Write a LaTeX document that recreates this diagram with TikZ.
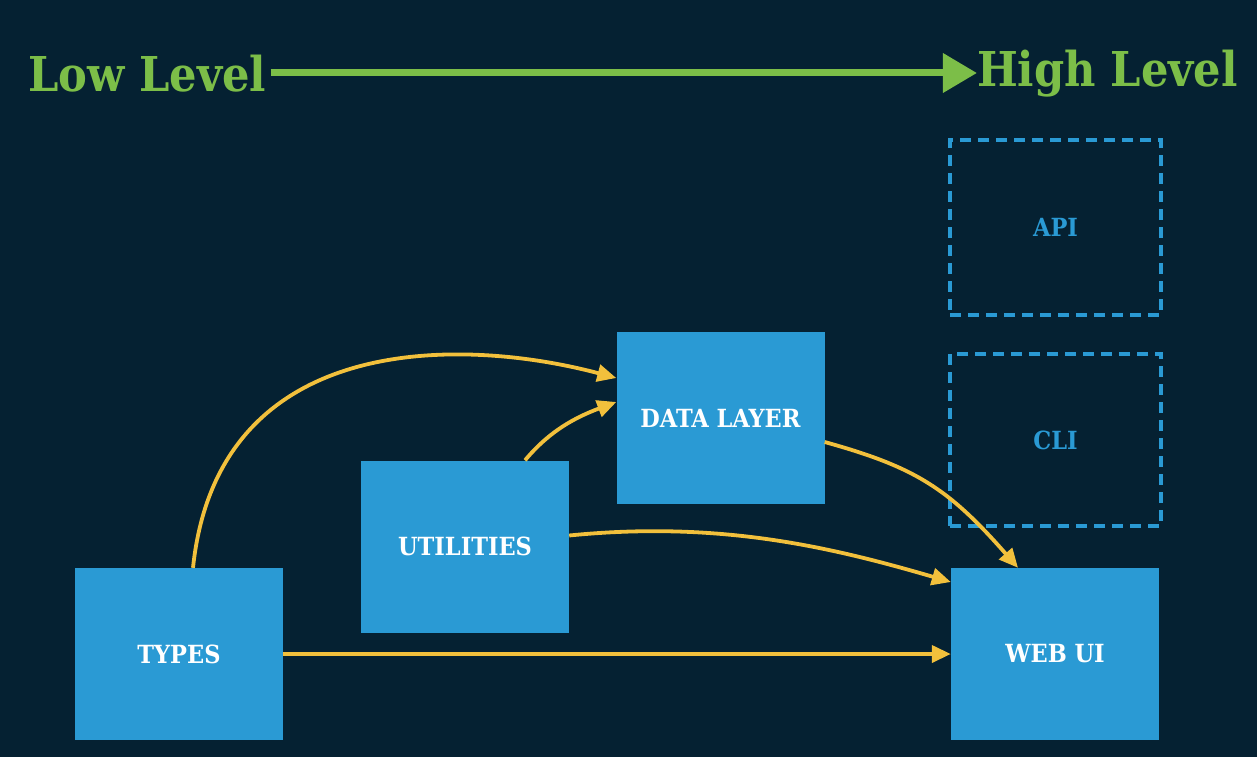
\documentclass[tikz,border=0pt]{standalone}
\usepackage{fontspec}
\setmainfont{DejaVu Serif Condensed}
\usetikzlibrary{arrows.meta}
\definecolor{bg}{RGB}{5,33,50}
\definecolor{boxblue}{RGB}{42,154,212}
\definecolor{arrowyellow}{RGB}{242,192,60}
\definecolor{levelgreen}{RGB}{124,190,72}
\tikzset{
  block/.style={fill=boxblue, draw=none, minimum width=208pt, minimum height=172pt, inner sep=0pt,
    text=white, font=\fontsize{25}{28}\selectfont\bfseries},
  future/.style={draw=boxblue, line width=4.5pt, dash pattern=on 11pt off 7pt, minimum width=208pt, minimum height=172pt,
    inner sep=0pt, text=boxblue, font=\fontsize{25}{28}\selectfont\bfseries},
  dep/.style={draw=arrowyellow, line width=3.8pt, -{Triangle[length=19pt,width=17pt]}},
  level/.style={text=levelgreen, font=\fontsize{48}{52}\selectfont\bfseries, inner sep=0pt}
}
\begin{document}
\begin{tikzpicture}[x=1pt,y=-1pt]
\fill[bg] (0,0) rectangle (1257,757);
\useasboundingbox (0,0) rectangle (1257,757);
% level axis
\node[level, anchor=west] (low) at (28,74) {Low Level};
\node[level, anchor=east] (high) at (1238,74) {High Level};
\draw[draw=levelgreen, line width=7pt, -{Triangle[length=34pt,width=38pt]}] (low.east) ++(4pt,1pt) coordinate (ls) -- (ls -| high.west);
% blocks
\node[block] (types) at (179,654) {TYPES};
\node[block] (utils) at (465,546.5) {UTILITIES};
\node[block] (data) at (720.5,418) {DATA LAYER};
\node[block] (web) at (1055,654) {WEB UI};
\node[future, minimum width=211pt, minimum height=175pt] (api) at (1055.5,227.5) {API};
\node[future, minimum width=211pt, minimum height=172pt] (cli) at (1055.5,440) {CLI};
% dependencies
\draw[dep] ([xshift=14pt]types.north) .. controls +(25,-240) and +(-150,-40) .. ([yshift=40pt]data.west);
\draw[dep] ([xshift=60pt]utils.north) .. controls +(25,-30) and +(-40,15) .. ([yshift=16pt]data.west);
\draw[dep] ([yshift=11pt]utils.east) .. controls +(150,-15) and +(-120,-35) .. ([yshift=72pt]web.west);
\draw[dep] ([yshift=-24pt]data.east) .. controls +(90,25) and +(-70,-80) .. ([xshift=-37pt]web.north);
\draw[dep] (types.east |- web.west) -- (web.west);
\end{tikzpicture}
\end{document}
